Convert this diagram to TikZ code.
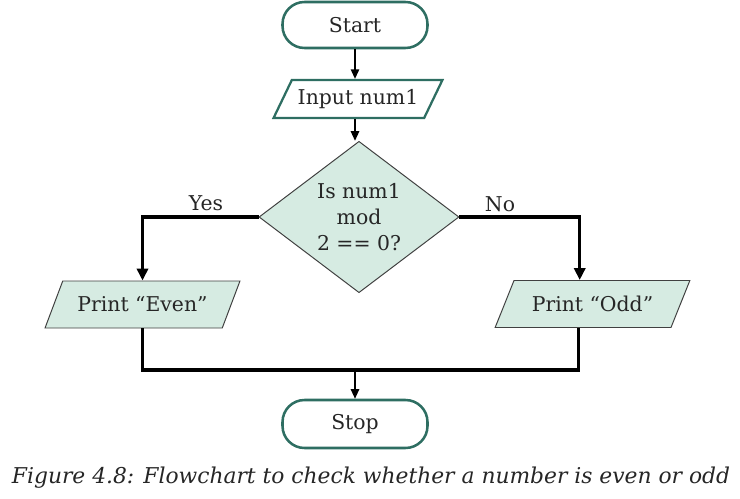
\documentclass[tikz,border=0pt]{standalone}
\usepackage{fontspec}
\setmainfont{DejaVu Serif}
\usetikzlibrary{shapes.geometric,arrows.meta}
\definecolor{termline}{HTML}{2E6E62}
\definecolor{boxfill}{HTML}{D6EBE2}
\begin{document}
\begin{tikzpicture}[>={Triangle[length=2.4mm,width=2.1mm]},font=\fontsize{14.5}{18.5}\selectfont,text=black!85]
    \tikzstyle{terminal}=[draw=termline,line width=1.8pt,rounded corners=0.55cm,fill=white,minimum width=3.625cm,minimum height=1.15cm];
    \tikzstyle{io}=[draw=black!75,line width=0.7pt,trapezium,trapezium left angle=58,trapezium right angle=122,trapezium stretches=true,fill=boxfill];
    \tikzstyle{flow}=[draw,line width=2.2pt];
    \tikzstyle{arrowline}=[draw,line width=1.1pt];
    \useasboundingbox (0,0) rectangle (18.5,-12.475);
    \node at (8.875, -0.625) (start) [terminal] {Start};
    \node at (8.95, -2.475) (input) [io,draw=termline,line width=1.6pt,fill=white,minimum width=4.225cm,minimum height=0.95cm] {Input num1};
    \node at (8.975, -5.425) (test) [diamond,draw=black!75,fill=boxfill,line width=0.7pt,minimum width=5cm,minimum height=3.575cm,inner sep=0pt,align=center] {Is num1\\mod\\2 == 0?};
    \node at (3.5625, -7.6125) (even) [io,minimum width=4.875cm,minimum height=1.175cm] {Print “Even”};
    \node at (14.8125, -7.6) (odd) [io,minimum width=4.875cm,minimum height=1.175cm] {Print “Odd”};
    \node at (8.875, -10.6) (stop) [terminal,minimum height=1.2cm] {Stop};
    \coordinate (merge) at (8.875, -9.25);
    \draw[arrowline,->] (start) to (start |- input.north);
    \draw[arrowline,->] (input.south -| start) to (start |- test.north);
    \draw[flow,-{Triangle[length=3mm,width=2.8mm]}] (test.west) -| (even.north);
    \draw[flow,-{Triangle[length=3mm,width=2.8mm]}] (test.east) -| ([xshift=-3.2mm]odd.north);
    \draw[flow] (even.south) |- (merge) -| ([xshift=-3.5mm]odd.south);
    \draw[arrowline,->] (merge) to (stop);
    \node at (5.15, -5.075) (yes) {Yes};
    \node at (12.5, -5.1) (no) {No};

    \node at (9.275, -11.95) (caption) [font=\itshape\fontsize{15.5}{18}\selectfont] {Figure 4.8: Flowchart to check whether a number is even or odd};
\end{tikzpicture}
\end{document}
